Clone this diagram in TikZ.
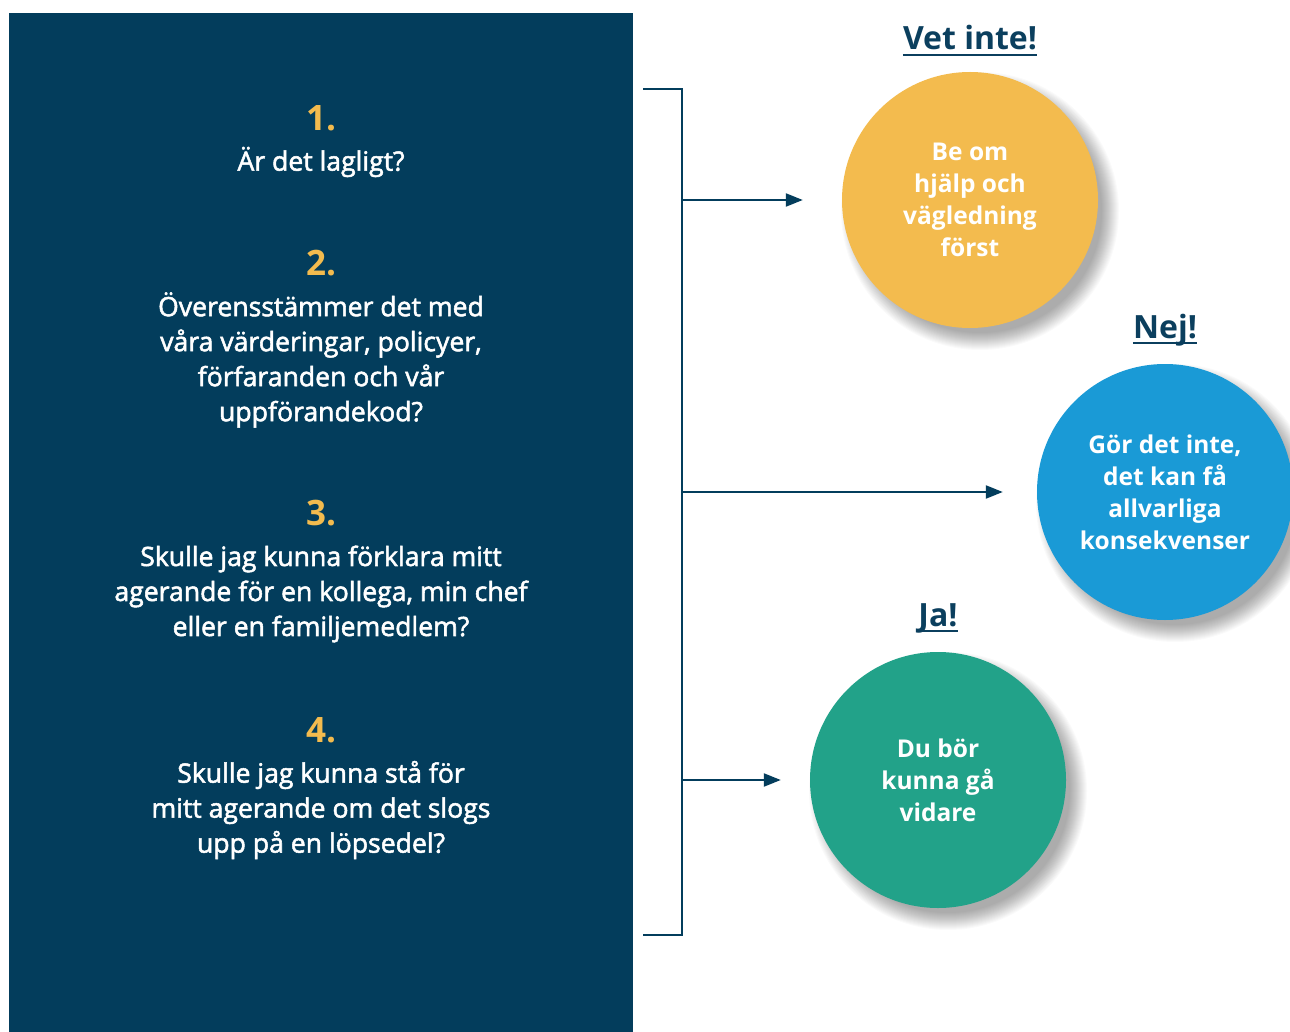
\documentclass[tikz,border=0pt]{standalone}
\usepackage{fontspec}
\setmainfont{Open Sans}
\newfontfamily\semifont{Open Sans}[FakeBold=2]
\usetikzlibrary{arrows.meta}
\definecolor{navy}{HTML}{033D5C}
\definecolor{ink}{HTML}{0B3F5E}
\definecolor{gold}{HTML}{F3BB4E}
\definecolor{sky}{HTML}{1A9AD6}
\definecolor{teal}{HTML}{22A289}
\tikzset{
  num/.style={text=gold, font=\fontsize{35}{40}\selectfont\bfseries, inner sep=0},
  quest/.style={text=white, align=center, font=\fontsize{26.6}{35}\selectfont\semifont, inner sep=0},
  circ/.style={circle, minimum size=256pt, inner sep=0, text=white, align=center,
    font=\fontsize{24.5}{32}\selectfont\bfseries},
  lab/.style={text=ink, font=\fontsize{32}{36}\selectfont\bfseries, inner sep=0},
  conn/.style={draw=navy, line width=2.2pt},
  arr/.style={conn, -{Triangle[length=17pt,width=13pt]}},
  uline/.style={draw=ink, line width=2pt},
}
\newcommand{\shadowat}[2]{%
  \foreach \k in {0,...,17}{\fill[black,opacity=0.02] (#1+10,#2+11) circle ({139-\k});}}
\begin{document}
\begin{tikzpicture}[x=1pt,y=-1pt]
\useasboundingbox (0,0) rectangle (1290,1032);
\fill[white] (0,0) rectangle (1290,1032);
\fill[navy] (9,13) rectangle (633,1032);

% questions
\node[num] (n1) at (321,118) {1.};
\node[quest] (q1) at (321,162) {Är det lagligt?};
\node[num] (n2) at (321,263) {2.};
\node[quest] (q2) at (321,360) {Överensstämmer det med\\våra värderingar, policyer,\\förfaranden och vår\\uppförandekod?};
\node[num] (n3) at (321,513) {3.};
\node[quest] (q3) at (321,594) {Skulle jag kunna förklara mitt\\agerande för en kollega, min chef\\eller en familjemedlem?};
\node[num] (n4) at (321,730) {4.};
\node[quest] (q4) at (321,810) {Skulle jag kunna stå för\\mitt agerande om det slogs\\upp på en löpsedel?};

% shadows
\shadowat{970}{200}
\shadowat{1165}{492}
\shadowat{938}{780}

% circles
\node[circ, fill=gold] (c1) at (970,200) {Be om\\hjälp och\\vägledning\\först};
\node[circ, fill=sky] (c2) at (1165,492) {Gör det inte,\\det kan få\\allvarliga\\konsekvenser};
\node[circ, fill=teal] (c3) at (938,780) {Du bör\\kunna gå\\vidare};

% labels
\node[lab] (l1) at (970,38) {Vet inte!};
\node[lab] (l2) at (1165,330) {Nej!};
\node[lab] (l3) at (938,618) {Ja!};
\draw[uline] ([yshift=-5pt]l1.base west) -- ([yshift=-5pt]l1.base east);
\draw[uline] ([yshift=-5pt]l2.base west) -- ([yshift=-5pt]l2.base east);
\draw[uline] ([yshift=-5pt]l3.base west) -- ([yshift=-5pt]l3.base east);

% bracket
\coordinate (tt) at (643,89);
\coordinate (bt) at (682,89);
\coordinate (bb) at (682,935);
\coordinate (tb) at (643,935);
\draw[conn, line join=miter] (tt) -- (bt) -- (bb) -- (tb);

% arrows
\coordinate (a1) at (682,200);
\coordinate (a2) at (682,492);
\coordinate (a3) at (682,780);
\draw[arr, shorten >=39pt] (a1) -- (c1.west);
\draw[arr, shorten >=34pt] (a2) -- (c2.west);
\draw[arr, shorten >=29pt] (a3) -- (c3.west);
\end{tikzpicture}
\end{document}
